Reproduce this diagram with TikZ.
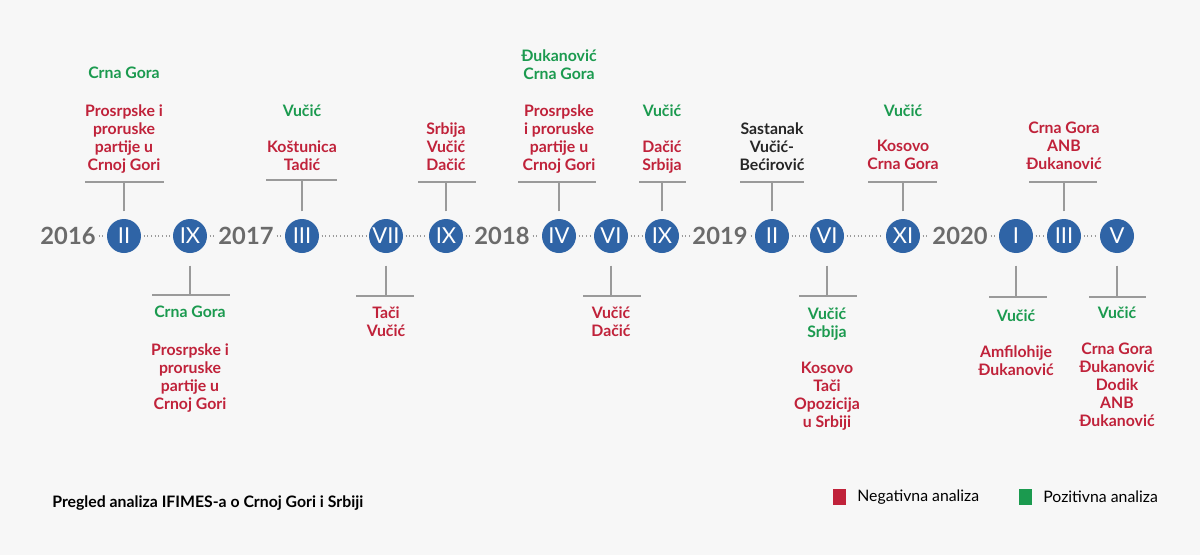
\documentclass[tikz,border=0pt]{standalone}
\usepackage{fontspec}
\setmainfont{Lato}
\usepackage{tikz}
\usetikzlibrary{positioning}

\definecolor{bgcol}{HTML}{F7F7F7}
\definecolor{monthcol}{HTML}{2F64A6}
\definecolor{yearcol}{HTML}{6B6B6B}
\definecolor{negcol}{HTML}{C0223A}
\definecolor{poscol}{HTML}{1B9A4F}
\definecolor{stemcol}{HTML}{9A9A9A}

\tikzset{
	month/.style={circle,fill=monthcol,text=white,minimum size=0.68cm,inner sep=0pt,outer sep=1.5pt,font=\fontsize{12.5}{12.5}\selectfont},
	year/.style={text=yearcol,inner sep=1.5pt,font=\bfseries\fontsize{13.5}{14}\selectfont},
	dots/.style={stemcol,line width=0.9pt,dash pattern=on 0.5pt off 1.6pt},
	stem/.style={stemcol,line width=0.8pt},
	notes/.style={align=center,inner sep=0pt,anchor=north,font=\bfseries\fontsize{9}{10.25}\selectfont},
	negnote/.style={notes,text=negcol},
	posnote/.style={notes,text=poscol},
	meetnote/.style={notes,text=black!85},
	legend/.style={anchor=west,inner sep=0pt,font=\fontsize{9}{10}\selectfont}
}

\begin{document}
\begin{tikzpicture}[x=0.02cm,y=-0.02cm]
	\fill [bgcol] (0,0) rectangle (1200,555);
	\useasboundingbox (0,0) rectangle (1200,555);

	%Years
	\node [year] (y16) at (68,236) {2016};
	\node [year] (y17) at (246,236) {2017};
	\node [year] (y18) at (502,236) {2018};
	\node [year] (y19) at (720,236) {2019};
	\node [year] (y20) at (960,236) {2020};

	%Months
	\node [month] (m1) at (124,236) {II};
	\node [month] (m2) at (190,236) {IX};
	\node [month] (m3) at (302,236) {III};
	\node [month] (m4) at (386,236) {VII};
	\node [month] (m5) at (446,236) {IX};
	\node [month] (m6) at (559,236) {IV};
	\node [month] (m7) at (611,236) {VI};
	\node [month] (m8) at (662,236) {IX};
	\node [month] (m9) at (772,236) {II};
	\node [month] (m10) at (827,236) {VI};
	\node [month] (m11) at (903,236) {XI};
	\node [month] (m12) at (1016,236) {I};
	\node [month] (m13) at (1064,236) {III};
	\node [month] (m14) at (1117,236) {V};

	%Dotted time line
	\foreach \a/\b in {y16/m1,m1/m2,m2/y17,y17/m3,m3/m4,m4/m5,m5/y18,y18/m6,m6/m7,m7/m8,m8/y19,y19/m9,m9/m10,m10/m11,m11/y20,y20/m12,m12/m13,m13/m14}
		\draw [dots] (\a) -- (\b);

	%II 2016 (top)
	\draw [stem] ([yshift=0.1cm]m1.north) -- (m1 |- 0,182);
	\draw [stem] (85,182) -- (164,182);
	\node [posnote] (p1) at (124,67) {Crna Gora};
	\node [negnote] (n1) at (124,104) {Prosrpske i\\proruske\\partije u\\Crnoj Gori};

	%IX 2016 (bottom)
	\draw [stem] ([yshift=-0.2cm]m2.south) -- (m2 |- 0,295);
	\draw [stem] (152,295) -- (230,295);
	\node [posnote] (p2) at (190,306) {Crna Gora};
	\node [negnote] (n2) at (190,343) {Prosrpske i\\proruske\\partije u\\Crnoj Gori};

	%III 2017 (top)
	\draw [stem] ([yshift=0.1cm]m3.north) -- (m3 |- 0,180);
	\draw [stem] (266,180) -- (337,180);
	\node [posnote] (p3) at (302,104) {Vučić};
	\node [negnote] (n3) at (302,140) {Koštunica\\Tadić};

	%VII 2017 (bottom)
	\draw [stem] ([yshift=-0.2cm]m4.south) -- (m4 |- 0,296);
	\draw [stem] (356,296) -- (414,296);
	\node [negnote] (n4) at (386,306) {Tači\\Vučić};

	%IX 2017 (top)
	\draw [stem] ([yshift=0.1cm]m5.north) -- (m5 |- 0,182);
	\draw [stem] (418,182) -- (476,182);
	\node [negnote] (n5) at (446,122) {Srbija\\Vučić\\Dačić};

	%IV 2018 (top)
	\draw [stem] ([yshift=0.1cm]m6.north) -- (m6 |- 0,182);
	\draw [stem] (518,182) -- (596,182);
	\node [posnote] (p6) at (559,49) {Đukanović\\Crna Gora};
	\node [negnote] (n6) at (559,104) {Prosrpske\\i proruske\\partije u\\Crnoj Gori};

	%VI 2018 (bottom)
	\draw [stem] ([yshift=-0.2cm]m7.south) -- (m7 |- 0,296);
	\draw [stem] (583,296) -- (641,296);
	\node [negnote] (n7) at (611,306) {Vučić\\Dačić};

	%IX 2018 (top)
	\draw [stem] ([yshift=0.1cm]m8.north) -- (m8 |- 0,182);
	\draw [stem] (639,182) -- (686,182);
	\node [posnote] (p8) at (662,104) {Vučić};
	\node [negnote] (n8) at (662,140) {Dačić\\Srbija};

	%II 2019 (top)
	\draw [stem] ([yshift=0.1cm]m9.north) -- (m9 |- 0,182);
	\draw [stem] (740,182) -- (804,182);
	\node [meetnote] (s9) at (772,122) {Sastanak\\Vučić-\\Bećirović};

	%VI 2019 (bottom)
	\draw [stem] ([yshift=-0.2cm]m10.south) -- (m10 |- 0,296);
	\draw [stem] (799,296) -- (857,296);
	\node [posnote] (p10) at (827,307) {Vučić\\Srbija};
	\node [negnote] (n10) at (827,362) {Kosovo\\Tači\\Opozicija\\u Srbiji};

	%XI 2019 (top)
	\draw [stem] ([yshift=0.1cm]m11.north) -- (m11 |- 0,182);
	\draw [stem] (868,182) -- (937,182);
	\node [posnote] (p11) at (903,104) {Vučić};
	\node [negnote] (n11) at (903,140) {Kosovo\\Crna Gora};

	%I 2020 (bottom)
	\draw [stem] ([yshift=-0.2cm]m12.south) -- (m12 |- 0,297);
	\draw [stem] (989,297) -- (1047,297);
	\node [posnote] (p12) at (1016,309) {Vučić};
	\node [negnote] (n12) at (1016,345) {Amfilohije\\Đukanović};

	%III 2020 (top)
	\draw [stem] ([yshift=0.1cm]m13.north) -- (m13 |- 0,182);
	\draw [stem] (1029,182) -- (1097,182);
	\node [negnote] (n13) at (1064,122) {Crna Gora\\ANB\\Đukanović};

	%V 2020 (bottom)
	\draw [stem] ([yshift=-0.2cm]m14.south) -- (m14 |- 0,297);
	\draw [stem] (1089,297) -- (1146,297);
	\node [posnote] (p14) at (1117,306) {Vučić};
	\node [negnote] (n14) at (1117,343) {Crna Gora\\Đukanović\\Dodik\\ANB\\Đukanović};

	%Title and legend
	\node [legend,font=\bfseries\fontsize{9}{10}\selectfont] (title) at (52,503) {Pregled analiza IFIMES-a o Crnoj Gori i Srbiji};
	\fill [negcol] (833,489) rectangle (846,505);
	\node [legend] (lneg) at (857,497) {Negativna analiza};
	\fill [poscol] (1019,489) rectangle (1032,505);
	\node [legend] (lpos) at (1043,497) {Pozitivna analiza};
\end{tikzpicture}
\end{document}
